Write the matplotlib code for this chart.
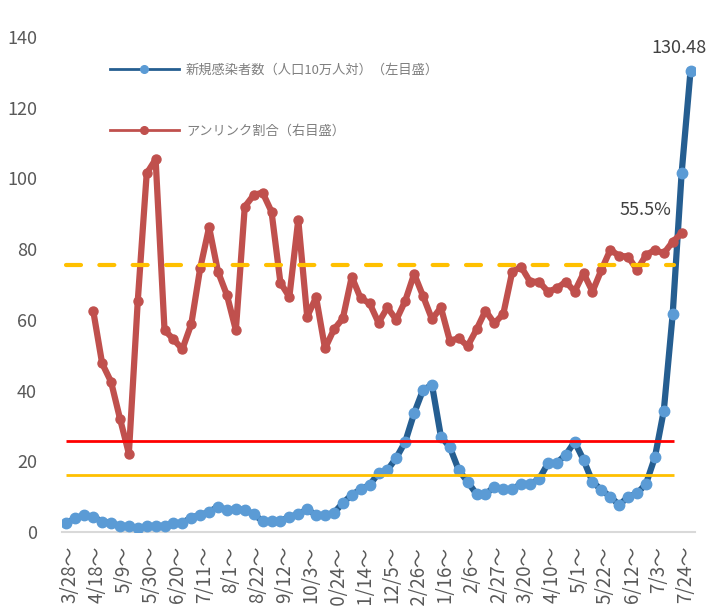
import numpy as np
import matplotlib
matplotlib.use('Agg')
import matplotlib.pyplot as plt
import matplotlib.transforms as mtransforms
from matplotlib.lines import Line2D

plt.rcParams['font.family'] = ['Noto Sans CJK JP', 'DejaVu Sans']

# weekly data, week starting 3/28 ... 7/31
new_cases = [2.5, 3.9, 4.8, 4.3, 2.9, 2.6, 1.7, 1.7, 1.0, 1.7,
             1.7, 1.7, 2.5, 2.6, 4.1, 4.8, 5.7, 7.2, 6.2, 6.4,
             6.3, 5.0, 3.1, 3.1, 3.1, 4.3, 5.0, 6.4, 4.8, 4.8,
             5.4, 8.2, 10.5, 12.1, 13.3, 16.6, 17.5, 21.0, 25.5, 33.6,
             40.2, 41.6, 27.0, 24.0, 17.5, 14.2, 10.7, 10.7, 12.8, 12.1,
             12.1, 13.6, 13.6, 14.9, 19.4, 19.6, 21.8, 25.5, 20.4, 14.2,
             11.9, 10.0, 7.6, 10.0, 10.9, 13.6, 21.1, 34.3, 61.7, 101.5,
             130.48]

unlinked = [np.nan, np.nan, np.nan,
            62.6, 47.7, 42.5, 32.1, 22.2, 65.4, 101.4, 105.4, 57.1, 54.5,
            51.7, 58.8, 74.6, 86.2, 73.6, 67.0, 57.1, 92.0, 95.3, 96.0,
            90.6, 70.5, 66.5, 88.3, 60.9, 66.4, 51.9, 57.3, 60.4, 72.2,
            66.1, 64.7, 59.2, 63.5, 60.0, 65.4, 73.0, 66.7, 60.2, 63.5,
            54.1, 54.8, 52.6, 57.3, 62.6, 59.0, 61.7, 73.6, 75.0, 70.8,
            70.8, 68.0, 68.9, 70.8, 68.0, 73.2, 68.0, 74.1, 79.8, 78.1,
            77.9, 74.1, 78.3, 79.8, 78.8, 82.1, 84.5, np.nan]

tick_labels = ['3/28～', '4/18～', '5/9～', '5/30～', '6/20～', '7/11～', '8/1～', '8/22～',
               '9/12～', '10/3～', '10/24～', '11/14～', '12/5～', '12/26～', '1/16～', '2/6～',
               '2/27～', '3/20～', '4/10～', '5/1～', '5/22～', '6/12～', '7/3～', '7/24～']

level_dashed = 75.5
level_red = 25.7
level_yellow = 16.0
last_blue_label = '130.48'
last_red_label = '55.5%'

fig = plt.figure(figsize=(7.08, 6.06), dpi=100)
ax = fig.add_axes([62 / 708, 1 - 532 / 606, (695 - 62) / 708, (532 - 37) / 606])

x = np.arange(len(new_cases))
ax.plot(x, new_cases, color='#255E91', lw=4.5, marker='o', ms=7.5,
        mfc='#5B9BD5', mec='#5B9BD5', solid_joinstyle='round', zorder=3)
ax.plot(x, unlinked, color='#C0504D', lw=4.5, marker='o', ms=6.5,
        mfc='#C0504D', mec='#C0504D', solid_joinstyle='round', solid_capstyle='round', zorder=3)

x_end = len(new_cases) - 2.8
ax.hlines(level_dashed, 0, x_end, colors='#FFC000', lw=3.0,
          linestyles=(0, (3.6, 4.4)), capstyle='round', zorder=4)
ax.hlines(level_red, 0, x_end, colors='#FF0000', lw=2.0, zorder=4)
ax.hlines(level_yellow, 0, x_end, colors='#FFC000', lw=2.0, zorder=4)

ax.annotate(last_blue_label, (x[-1], new_cases[-1]), xytext=(-8, 16),
            textcoords='offset points', ha='center', va='center',
            fontsize=13, color='#404040', annotation_clip=False)
ax.annotate(last_red_label, (x[-2], unlinked[-2]), xytext=(-26, 17),
            textcoords='offset points', ha='center', va='center',
            fontsize=13, color='#404040')

ax.set_xlim(-0.5, len(new_cases) - 0.5)
ax.set_ylim(0, 140)
ax.set_yticks(np.arange(0, 141, 20))
ax.set_xticks(x[::3])
ax.set_xticklabels(tick_labels, rotation=90, va='top', ha='center')
ax.tick_params(axis='y', length=0, colors='#595959', labelsize=13, pad=18)
ax.tick_params(axis='x', length=0, colors='#595959', labelsize=13.5, pad=10)
shift = mtransforms.ScaledTranslation(0.04, 0, fig.dpi_scale_trans)
for lbl in ax.get_xticklabels():
    lbl.set_transform(lbl.get_transform() + shift)

for s in ['top', 'right', 'left']:
    ax.spines[s].set_visible(False)
ax.spines['bottom'].set_color('#D9D9D9')
ax.spines['bottom'].set_linewidth(1.5)

handles = [
    Line2D([0], [0], color='#255E91', lw=2.0, marker='o', ms=5.5, mfc='#5B9BD5', mec='#5B9BD5',
           label='新規感染者数（人口10万人対）（左目盛）'),
    Line2D([0], [0], color='#C0504D', lw=2.0, marker='o', ms=5.5, mfc='#C0504D', mec='#C0504D',
           label='アンリンク割合（右目盛）'),
]
leg = ax.legend(handles=handles, loc='upper left', bbox_to_anchor=(48 / 633, 1 - 27 / 495),
                frameon=False, fontsize=9.5, handlelength=5.2, handletextpad=0.55,
                labelspacing=3.6, borderpad=0, borderaxespad=0)
for t in leg.get_texts():
    t.set_color('#7F7F7F')

fig.savefig('out.png', dpi=100)
